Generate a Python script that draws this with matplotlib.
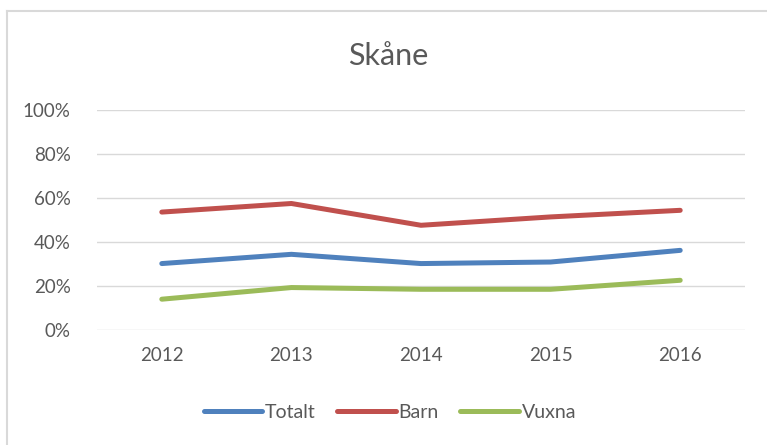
import matplotlib.pyplot as plt
from matplotlib.lines import Line2D
from matplotlib.ticker import PercentFormatter

years = ['2012', '2013', '2014', '2015', '2016']
totalt = [30.2, 34.4, 30.2, 30.9, 36.2]
barn = [53.6, 57.5, 47.6, 51.4, 54.4]
vuxna = [14.0, 19.3, 18.5, 18.5, 22.6]

plt.rcParams['font.family'] = ['Lato', 'DejaVu Sans']
txt = '#595959'

fig = plt.figure(figsize=(7.67, 4.45), dpi=100)
ax = fig.add_axes([97/767, 115/445, 648/767, 220/445])

x = range(len(years))
ax.plot(x, totalt, color='#4F81BD', lw=3.6, label='Totalt', solid_capstyle='round')
ax.plot(x, barn, color='#C0504D', lw=3.6, label='Barn', solid_capstyle='round')
ax.plot(x, vuxna, color='#9BBB59', lw=3.6, label='Vuxna', solid_capstyle='round')

ax.set_xlim(-0.5, len(years) - 0.5)
ax.set_ylim(0, 100)
ax.set_yticks(range(0, 101, 20))
ax.yaxis.set_major_formatter(PercentFormatter(decimals=0))
ax.set_xticks(list(x))
ax.set_xticklabels(years)
ax.grid(axis='y', color='#D9D9D9', lw=1)
ax.set_axisbelow(True)
for s in ax.spines.values():
    s.set_visible(False)
ax.tick_params(length=0, labelsize=13.5, colors=txt)
ax.tick_params(axis='y', pad=19)
ax.tick_params(axis='x', pad=12)

fig.text(388/767, 1 - 56/445, 'Skåne', ha='center', va='center', fontsize=22, color=txt)

leg = fig.legend(loc='center', bbox_to_anchor=(390/767, 1 - 412/445), ncol=3, frameon=False,
                 fontsize=14, handlelength=3.0, handletextpad=0.15, columnspacing=1.1)
for t in leg.get_texts():
    t.set_color(txt)

# chart frame edge (top and left only, as in the screenshot)
fig.add_artist(Line2D([7/767, 1], [1 - 11/445, 1 - 11/445], transform=fig.transFigure,
                      color='#D9D9D9', lw=1.5))
fig.add_artist(Line2D([7/767, 7/767], [0, 1 - 11/445], transform=fig.transFigure,
                      color='#D9D9D9', lw=1.5))

fig.savefig('out.png', dpi=100)
